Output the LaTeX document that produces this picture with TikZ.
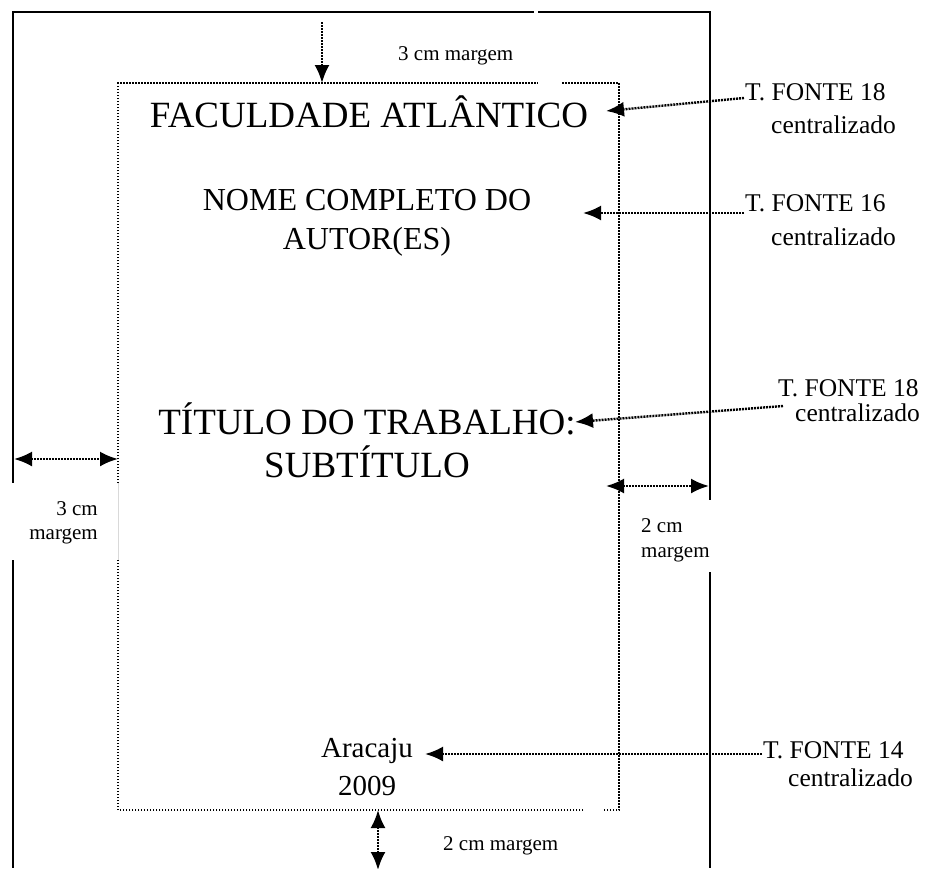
\documentclass[tikz,border=0pt]{standalone}
\usepackage{fontspec}
\setmainfont{Liberation Serif}
\usetikzlibrary{arrows.meta}
\tikzset{
  pageline/.style={line width=1.9pt, line cap=butt},
  boxline/.style={line width=1.3pt, dash pattern=on 1.5pt off 1.5pt},
  tip/.tip={Latex[length=18pt,width=15pt]},
  arr/.style={line width=2.4pt, dash pattern=on 2pt off 1pt, -tip},
  darr/.style={line width=2.4pt, dash pattern=on 2pt off 1pt, tip-tip},
  big/.style={inner sep=0pt, anchor=base, font=\fontsize{37}{37}\selectfont},
  mid/.style={inner sep=0pt, anchor=base, font=\fontsize{32}{32}\selectfont},
  small/.style={inner sep=0pt, anchor=base, font=\fontsize{29}{29}\selectfont},
  lab/.style={inner sep=0pt, anchor=base west, font=\fontsize{25.5}{25.5}\selectfont},
  mlab/.style={inner sep=0pt, font=\fontsize{21}{21}\selectfont},
}
\begin{document}
\begin{tikzpicture}[x=1pt,y=-1pt]
\useasboundingbox (0,0) rectangle (936,868);
% page frame
\draw[pageline] (12,12) -- (534,12);
\draw[pageline] (538,12) -- (710,12);
\draw[pageline] (13,11) -- (13,483);
\draw[pageline] (13,560) -- (13,868);
\draw[pageline] (710,11) -- (710,500);
\draw[pageline] (710,572) -- (710,868);
% dotted text box
\draw[boxline] (118,483) -- (118,83) -- (538,83);
\draw[boxline] (562,83) -- (619,83) -- (619,810) -- (603,810);
\draw[boxline] (583,810) -- (118,810) -- (118,560);
\draw[line width=0.6pt, black!15] (118,483) -- (118,560);
% main texts
\node[big] (fac) at (369,127) {FACULDADE ATLÂNTICO};
\node[mid] (nome) at (367,210) {NOME COMPLETO DO};
\node[mid] (autor) at (367,249) {AUTOR(ES)};
\node[big] (tit) at (367,434) {TÍTULO DO TRABALHO:};
\node[big] (sub) at (367,477) {SUBTÍTULO};
\node[small] (city) at (367,757) {Aracaju};
\node[small] (year) at (367,795) {2009};
% font labels
\node[lab] (l1) at (745,100) {T. FONTE 18};
\node[lab] (l1b) at (771,133) {centralizado};
\node[lab] (l2) at (745,211) {T. FONTE 16};
\node[lab] (l2b) at (771,245) {centralizado};
\node[lab] (l3) at (778,396) {T. FONTE 18};
\node[lab] (l3b) at (795,421) {centralizado};
\node[lab] (l4) at (763,758) {T. FONTE 14};
\node[lab] (l4b) at (788,786) {centralizado};
% margin labels
\node[mlab, anchor=base west] (mtop) at (398,60) {3 cm margem};
\node[mlab, anchor=base east] (ml1) at (98,515) {3 cm};
\node[mlab, anchor=base east] (ml2) at (98,539) {margem};
\node[mlab, anchor=base west] (mr1) at (641,532) {2 cm};
\node[mlab, anchor=base west] (mr2) at (641,557) {margem};
\node[mlab, anchor=base west] (mbot) at (443,850) {2 cm margem};
% arrow end points
\coordinate (s1) at (744,98);  \coordinate (t1) at (606,111);
\coordinate (s2) at (744,213); \coordinate (t2) at (583,213);
\coordinate (s3) at (783,406); \coordinate (t3) at (575,422);
\coordinate (s4) at (762,754); \coordinate (t4) at (425,754);
\coordinate (ta) at (322,22);  \coordinate (tb) at (322,83);
\coordinate (la) at (14,459);  \coordinate (lb) at (118,459);
\coordinate (ra) at (606,486); \coordinate (rb) at (709,486);
\coordinate (ba) at (378,810); \coordinate (bb) at (378,870);
% arrows
\draw[arr] (s1) -- (t1);
\draw[arr] (s2) -- (t2);
\draw[arr] (s3) -- (t3);
\draw[arr] (s4) -- (t4);
\draw[arr] (ta) -- (tb);
\draw[darr] (la) -- (lb);
\draw[darr] (ra) -- (rb);
\draw[darr] (ba) -- (bb);
\end{tikzpicture}
\end{document}
